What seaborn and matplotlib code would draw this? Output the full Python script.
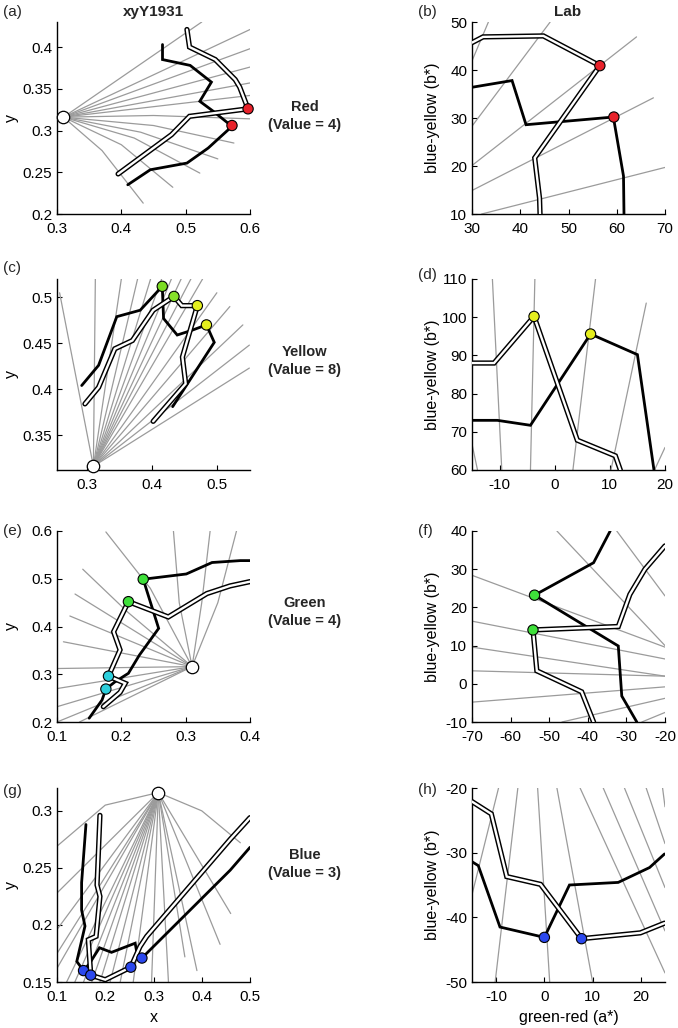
import numpy as np
import pandas as pd
import matplotlib
matplotlib.use('Agg')
import matplotlib.pyplot as plt
import seaborn as sns
from matplotlib.ticker import FuncFormatter

sns.set_theme(style='white')
plt.rcParams['font.family'] = ['Liberation Sans', 'DejaVu Sans']
plt.rcParams['axes.unicode_minus'] = False

W = (0.31, 0.316)  # white point

# ---------------- panel (a) xyY, Red ----------------
a_black_x = [0.464, 0.464, 0.507, 0.540, 0.522, 0.543, 0.572, 0.535, 0.502, 0.445, 0.410]
a_black_y = [0.403, 0.385, 0.378, 0.358, 0.335, 0.323, 0.305, 0.279, 0.261, 0.253, 0.235]
a_double_x = [0.502, 0.506, 0.546, 0.577, 0.584, 0.597, 0.506, 0.478, 0.395]
a_double_y = [0.421, 0.400, 0.385, 0.361, 0.352, 0.326, 0.317, 0.295, 0.248]
a_dot_x = [0.597, 0.572]
a_dot_y = [0.326, 0.306]
a_grid = [
    [W, (0.525, 0.43)], [W, (0.6, 0.421)], [W, (0.6, 0.398)], [W, (0.6, 0.376)],
    [W, (0.6, 0.357)], [W, (0.6, 0.342)],
    [W, (0.45, 0.318), (0.6, 0.314)], [W, (0.45, 0.306), (0.575, 0.285)],
    [W, (0.43, 0.298), (0.55, 0.266)], [W, (0.42, 0.291), (0.522, 0.249)],
    [W, (0.40, 0.283), (0.48, 0.232)], [W, (0.37, 0.276), (0.434, 0.213)],
]

# ---------------- panel (b) Lab, Red ----------------
b_black_x = [30, 38.3, 41.2, 59.3, 61.4, 61.5]
b_black_y = [36.4, 37.8, 28.6, 30.2, 17.9, 10]
b_double_x = [30, 32.3, 44.8, 56.5, 43.0, 44.0, 44.1]
b_double_y = [45.7, 46.9, 47.1, 40.9, 21.7, 13.3, 10]
b_dot_x = [56.5, 59.4]
b_dot_y = [40.9, 30.2]
b_grid = [
    [(32, 10), (70, 19.7)], [(30, 14.9), (67.6, 34.2)], [(30, 20.1), (64.1, 46.9)],
    [(30, 28.3), (46.2, 50)], [(30, 41.9), (33.4, 50)],
]

# ---------------- panel (c) xyY, Yellow ----------------
c_black_x = [0.292, 0.318, 0.346, 0.382, 0.416, 0.418, 0.439, 0.461, 0.484, 0.496, 0.432]
c_black_y = [0.404, 0.426, 0.479, 0.486, 0.512, 0.477, 0.459, 0.464, 0.470, 0.451, 0.381]
c_double_x = [0.297, 0.318, 0.343, 0.370, 0.402, 0.434, 0.446, 0.470, 0.456, 0.447, 0.452, 0.402]
c_double_y = [0.384, 0.402, 0.444, 0.453, 0.486, 0.501, 0.491, 0.491, 0.457, 0.435, 0.406, 0.365]
c_dot_x = [0.416, 0.434, 0.470, 0.484]
c_dot_y = [0.512, 0.501, 0.491, 0.470]
c_dot_col = ['#7bdc22', '#86e02a', '#e4ef1e', '#e4ef1e']
c_grid = [[W, e] for e in [
    (0.258, 0.505), (0.313, 0.52), (0.353, 0.52), (0.378, 0.52), (0.398, 0.52),
    (0.415, 0.52), (0.43, 0.52), (0.445, 0.52), (0.46, 0.52), (0.478, 0.52),
    (0.50, 0.505), (0.52, 0.49), (0.54, 0.47), (0.55, 0.448), (0.55, 0.423)]]

# ---------------- panel (d) Lab, Yellow ----------------
d_black_x = [-15, -10.4, -4.4, 6.5, 15, 18]
d_black_y = [73.0, 73.0, 71.7, 95.6, 90.2, 60]
d_double_x = [-15, -11, -3.75, 4.1, 11, 11.9]
d_double_y = [88.0, 88.0, 100.2, 67.8, 63.7, 60]
d_dot_x = [-3.75, 6.5]
d_dot_y = [100.2, 95.6]
d_grid = [
    [(-15, 66.8), (-14, 60)], [(-11.3, 110), (-9.6, 60)], [(-3.6, 110), (-4.4, 60)],
    [(7.4, 110), (3.3, 60)], [(16.6, 103.7), (10.2, 60)], [(20, 65.9), (18.1, 60)],
]

# ---------------- panel (e) xyY, Green ----------------
e_black_x = [0.40, 0.385, 0.341, 0.301, 0.234, 0.258, 0.228, 0.211, 0.190, 0.176, 0.170, 0.150]
e_black_y = [0.538, 0.538, 0.534, 0.510, 0.499, 0.396, 0.340, 0.302, 0.284, 0.269, 0.246, 0.208]
e_double_x = [0.40, 0.369, 0.333, 0.273, 0.211, 0.188, 0.198, 0.180, 0.206, 0.198, 0.172]
e_double_y = [0.494, 0.485, 0.469, 0.420, 0.452, 0.389, 0.351, 0.296, 0.281, 0.262, 0.232]
e_dot_x = [0.234, 0.211, 0.180, 0.176]
e_dot_y = [0.499, 0.452, 0.296, 0.269]
e_dot_col = ['#3ee03a', '#3ee03a', '#2ccfdc', '#2ccfdc']
e_grid = [
    [W, (0.1, 0.312)], [W, (0.1, 0.270)], [W, (0.1, 0.232)], [W, (0.1, 0.200)],
    [W, (0.135, 0.2)], [W, (0.110, 0.368)], [W, (0.120, 0.422)], [W, (0.128, 0.468)],
    [W, (0.21, 0.43), (0.140, 0.520)], [W, (0.245, 0.48), (0.176, 0.598)],
    [W, (0.29, 0.45), (0.281, 0.6)], [W, (0.325, 0.45), (0.338, 0.6)],
    [W, (0.35, 0.45), (0.379, 0.6)],
]

# ---------------- panel (f) Lab, Green ----------------
f_black_x = [-34.2, -38.5, -53.8, -32.1, -31.2, -27.3]
f_black_y = [40, 31.7, 23.2, 9.9, -3.2, -10]
f_double_x = [-20, -25.2, -29.1, -32.1, -54.2, -53.2, -41.6, -38.5]
f_double_y = [36.1, 30, 23.4, 15, 14.1, 3.4, -2.1, -10]
f_dot_x = [-53.8, -54.2]
f_dot_y = [23.2, 14.1]
f_grid = [
    [(-70, 28.4), (-20, 9.6)], [(-70, 16.4), (-20, 6.5)], [(-70, 9.6), (-20, 2.0)],
    [(-70, 3.4), (-20, 2.0)], [(-70, -4.8), (-20, -0.8)], [(-46.7, -10), (-20, -3.8)],
    [(-26, -10), (-20, -7.5)], [(-48, 40), (-20, 10)], [(-32.5, 40), (-20, 23)],
]

# ---------------- panel (g) xyY, Blue ----------------
g_black_x = [0.160, 0.151, 0.151, 0.158, 0.141, 0.155, 0.167, 0.188, 0.213, 0.262, 0.267, 0.276, 0.459, 0.50]
g_black_y = [0.288, 0.237, 0.213, 0.199, 0.168, 0.160, 0.166, 0.180, 0.176, 0.184, 0.172, 0.171, 0.248, 0.268]
g_double_x = [0.189, 0.183, 0.189, 0.181, 0.165, 0.170, 0.200, 0.253, 0.272, 0.286, 0.459, 0.50]
g_double_y = [0.296, 0.235, 0.225, 0.190, 0.187, 0.156, 0.152, 0.163, 0.181, 0.190, 0.275, 0.294]
g_dot_x = [0.155, 0.170, 0.253, 0.276]
g_dot_y = [0.160, 0.156, 0.163, 0.171]
g_grid = [[W, (x, 0.15)] for x in [0.12, 0.137, 0.155, 0.172, 0.189, 0.210, 0.231, 0.258, 0.296, 0.331]] + [
    [W, (0.365, 0.172)], [W, (0.390, 0.160)], [W, (0.438, 0.183)], [W, (0.46, 0.21)],
    [W, (0.1, 0.228)], [W, (0.1, 0.196)], [W, (0.1, 0.175)], [W, (0.1, 0.162)],
    [W, (0.2, 0.305), (0.1, 0.269)], [W, (0.40, 0.30), (0.48, 0.272)],
]

# ---------------- panel (h) Lab, Blue ----------------
h_black_x = [-15, -13.7, -9.2, 0, 5.2, 15.3, 21.8, 24.9]
h_black_y = [-31.4, -32.0, -41.5, -43.1, -35.0, -34.6, -32.3, -30.2]
h_double_x = [-15, -11, -7.8, -0.8, 7.7, 19.9, 24.9]
h_double_y = [-22.1, -24, -33.7, -34.9, -43.3, -42.4, -40.9]
h_dot_x = [0, 7.7]
h_dot_y = [-43.1, -43.3]
h_grid = [
    [(-9.5, -20), (-15, -36.5)], [(-5.5, -20), (-10.2, -50)], [(-1.4, -20), (1.1, -50)],
    [(2.6, -20), (10, -50)], [(7.4, -20), (25, -48.6)], [(12.2, -20), (25, -42.1)],
    [(16.6, -20), (25, -35.4)], [(21.1, -20), (25, -28.6)], [(24.5, -20), (25, -22.9)],
]

row_titles = ['Red\n(Value = 4)', 'Yellow\n(Value = 8)', 'Green\n(Value = 4)', 'Blue\n(Value = 3)']
panel_letters = ['(a)', '(b)', '(c)', '(d)', '(e)', '(f)', '(g)', '(h)']

# ------------------------------------------------------------------
FW, FH = 678, 1028
fig = plt.figure(figsize=(FW / 100, FH / 100), dpi=100)
rows_px = [(22, 214), (279, 470), (531, 722), (788, 982)]
cols_px = [(57, 250), (472, 665)]


def make_ax(r, c):
    t, b = rows_px[r]
    l, rr = cols_px[c]
    return fig.add_axes([l / FW, 1 - b / FH, (rr - l) / FW, (b - t) / FH])


GREY = '#9b9b9b'


def draw_grid(ax, lines):
    recs = []
    for i, ln in enumerate(lines):
        for j, (x, y) in enumerate(ln):
            recs.append((i, j, x, y))
    df = pd.DataFrame(recs, columns=['id', 'k', 'x', 'y'])
    sns.lineplot(data=df, x='x', y='y', units='id', estimator=None, sort=False,
                 color=GREY, lw=0.9, ax=ax, legend=False, zorder=1)


def draw_black(ax, xs, ys):
    sns.lineplot(x=xs, y=ys, sort=False, estimator=None, color='black', lw=2.0,
                 ax=ax, zorder=3, solid_joinstyle='miter')


def draw_double(ax, xs, ys):
    sns.lineplot(x=xs, y=ys, sort=False, estimator=None, color='black', lw=3.8,
                 ax=ax, zorder=3, solid_joinstyle='miter')
    sns.lineplot(x=xs, y=ys, sort=False, estimator=None, color='white', lw=1.7,
                 ax=ax, zorder=3.5, solid_joinstyle='miter')


def draw_dots(ax, xs, ys, cols, s=55):
    ax.scatter(xs, ys, c=cols, s=s, edgecolors='black', linewidths=0.8,
               zorder=6, clip_on=False)


def style(ax, xlim, ylim, xt, yt, ylabel, xlabel, is_xy):
    ax.set_xlim(*xlim)
    ax.set_ylim(*ylim)
    ax.set_xticks(xt)
    ax.set_yticks(yt)
    fmt = FuncFormatter(lambda v, p: ('%g' % round(v, 4)))
    ax.xaxis.set_major_formatter(fmt)
    ax.yaxis.set_major_formatter(fmt)
    sns.despine(ax=ax)
    for s in ['left', 'bottom']:
        ax.spines[s].set_color('black')
        ax.spines[s].set_linewidth(1.0)
    ax.tick_params(axis='both', which='major', bottom=True, left=True, direction='in',
                   length=3.5, width=0.8, labelsize=11, colors='black')
    ax.tick_params(axis='x', pad=6)
    ax.tick_params(axis='y', pad=3.5)
    ax.set_ylabel(ylabel, fontsize=11.5, color='black')
    ax.yaxis.set_label_coords(-0.195 if is_xy else -0.165, 0.5)
    if xlabel:
        ax.set_xlabel(xlabel, fontsize=11.5, color='black', labelpad=4)
    else:
        ax.set_xlabel('')
    ax.set_facecolor('white')


panels = [
    (0, 0, a_grid, (a_black_x, a_black_y), (a_double_x, a_double_y), (a_dot_x, a_dot_y), ['#e8222b'] * 2,
     (0.3, 0.6), (0.2, 0.43), [0.3, 0.4, 0.5, 0.6], [0.2, 0.25, 0.3, 0.35, 0.4], True),
    (0, 1, b_grid, (b_black_x, b_black_y), (b_double_x, b_double_y), (b_dot_x, b_dot_y), ['#e8222b'] * 2,
     (30, 70), (10, 50), [30, 40, 50, 60, 70], [10, 20, 30, 40, 50], False),
    (1, 0, c_grid, (c_black_x, c_black_y), (c_double_x, c_double_y), (c_dot_x, c_dot_y), c_dot_col,
     (0.254, 0.551), (0.312, 0.52), [0.3, 0.4, 0.5], [0.35, 0.4, 0.45, 0.5], True),
    (1, 1, d_grid, (d_black_x, d_black_y), (d_double_x, d_double_y), (d_dot_x, d_dot_y), ['#e6ef1e'] * 2,
     (-15, 20), (60, 110), [-10, 0, 10, 20], [60, 70, 80, 90, 100, 110], False),
    (2, 0, e_grid, (e_black_x, e_black_y), (e_double_x, e_double_y), (e_dot_x, e_dot_y), e_dot_col,
     (0.1, 0.4), (0.2, 0.6), [0.1, 0.2, 0.3, 0.4], [0.2, 0.3, 0.4, 0.5, 0.6], True),
    (2, 1, f_grid, (f_black_x, f_black_y), (f_double_x, f_double_y), (f_dot_x, f_dot_y), ['#3ee03a'] * 2,
     (-70, -20), (-10, 40), [-70, -60, -50, -40, -30, -20], [-10, 0, 10, 20, 30, 40], False),
    (3, 0, g_grid, (g_black_x, g_black_y), (g_double_x, g_double_y), (g_dot_x, g_dot_y), ['#2b48ee'] * 4,
     (0.1, 0.5), (0.15, 0.32), [0.1, 0.2, 0.3, 0.4, 0.5], [0.15, 0.2, 0.25, 0.3], True),
    (3, 1, h_grid, (h_black_x, h_black_y), (h_double_x, h_double_y), (h_dot_x, h_dot_y), ['#2b48ee'] * 2,
     (-15, 25), (-50, -20), [-10, 0, 10, 20], [-50, -40, -30, -20], False),
]

for (r, c, grid, blk, dbl, dots, cols, xl, yl, xt, yt, is_xy) in panels:
    ax = make_ax(r, c)
    draw_grid(ax, grid)
    draw_double(ax, *dbl)
    draw_black(ax, *blk)
    draw_dots(ax, dots[0], dots[1], cols)
    if is_xy:
        ax.scatter([W[0]], [W[1]], c='white', s=80, edgecolors='black', linewidths=0.9,
                   zorder=6, clip_on=False)
    ylabel = 'y' if is_xy else 'blue-yellow (b*)'
    xlabel = None
    if r == 3:
        xlabel = 'x' if is_xy else 'green-red (a*)'
    style(ax, xl, yl, xt, yt, ylabel, xlabel, is_xy)

# titles
fig.text(153 / FW, 1 - 12 / FH, 'xyY1931', ha='center', va='center', fontsize=11, weight='bold')
fig.text(568 / FW, 1 - 12 / FH, 'Lab', ha='center', va='center', fontsize=11, weight='bold')

# row labels in middle
row_text_y = [116, 361, 612, 864]
for txt, yy in zip(row_titles, row_text_y):
    fig.text(305 / FW, 1 - yy / FH, txt, ha='center', va='center', fontsize=10.5,
             weight='bold', linespacing=1.3)

# panel letters
letter_pos = [(3, 12), (418, 12), (3, 268), (418, 275), (3, 531), (418, 531), (3, 791), (418, 790)]
for lab, (px, py) in zip(panel_letters, letter_pos):
    fig.text(px / FW, 1 - py / FH, lab, ha='left', va='center', fontsize=11)

fig.savefig('out.png', dpi=100, facecolor='white')
